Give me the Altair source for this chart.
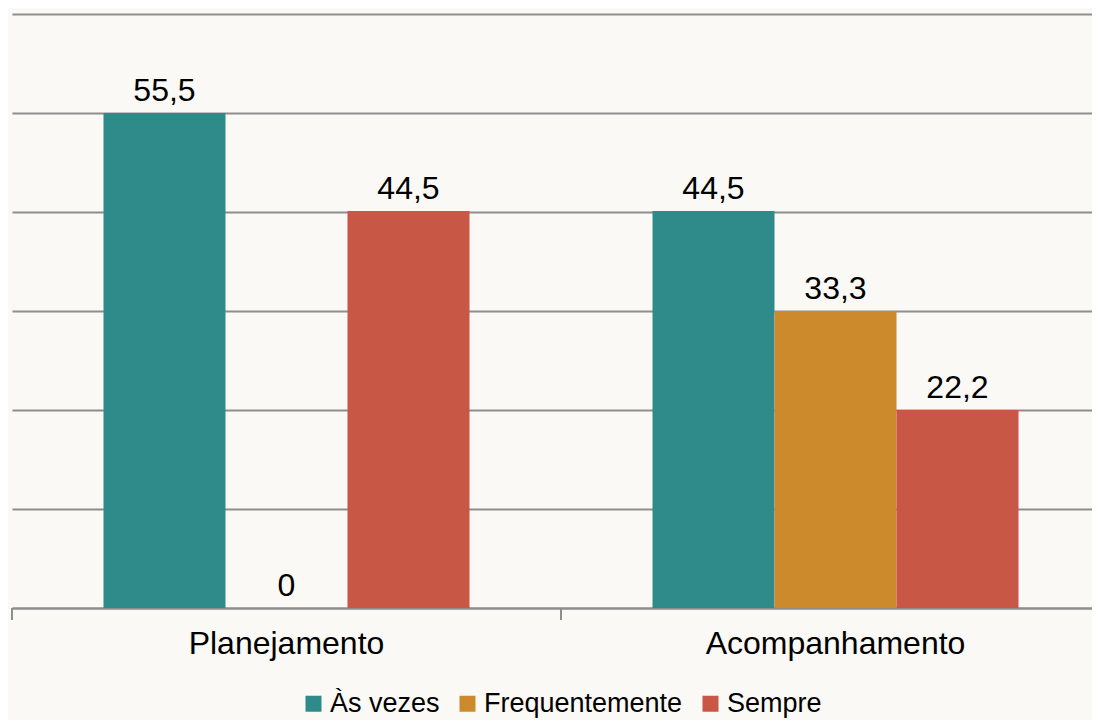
import altair as alt
import pandas as pd

categories = ["Planejamento", "Acompanhamento"]
series = ["Às vezes", "Frequentemente", "Sempre"]
planejamento = [55.5, 0, 44.5]
acompanhamento = [44.5, 33.3, 22.2]
colors = ["#2e8b8a", "#cc8a2c", "#c95745"]
grid_values = [0, 11.1, 22.2, 33.3, 44.4, 55.5, 66.6]

rows = []
for cat, vals in zip(categories, [planejamento, acompanhamento]):
    for s, v in zip(series, vals):
        lab = ("%g" % v).replace(".", ",")
        rows.append({"cat": cat, "serie": s, "valor": v, "rotulo": lab})
df = pd.DataFrame(rows)
ticks_df = pd.DataFrame({"cat": categories})

FONT = "Liberation Sans"
GRAY = "#8e8e8e"

x_enc = alt.X("cat:N", sort=categories,
              scale=alt.Scale(range=[0, 1098], paddingInner=0, paddingOuter=0),
              axis=alt.Axis(title=None, ticks=False, labelFontSize=32, labelFont=FONT,
                            labelColor="#000000", labelPadding=20, domainColor=GRAY,
                            domainWidth=2, labelAngle=0, labelLimit=0))
xo_enc = alt.XOffset("serie:N", sort=series,
                     scale=alt.Scale(paddingInner=0, paddingOuter=0.75))
y_enc = alt.Y("valor:Q", scale=alt.Scale(domain=[0, 66.6], nice=False),
              axis=alt.Axis(title=None, labels=False, ticks=False, domain=False,
                            values=grid_values, gridColor=GRAY, gridWidth=2,
                            gridOpacity=1))

bars = alt.Chart(df).mark_bar().encode(
    x=x_enc,
    xOffset=xo_enc,
    y=y_enc,
    color=alt.Color("serie:N", sort=series,
                    scale=alt.Scale(domain=series, range=colors),
                    legend=alt.Legend(title=None, orient="none", direction="horizontal",
                                      legendX=288, legendY=676, symbolType="square",
                                      symbolSize=256, symbolStrokeWidth=0,
                                      labelFontSize=27, labelFont=FONT,
                                      labelColor="#000000", columnPadding=14,
                                      labelOffset=3, labelLimit=0)),
)

texts = alt.Chart(df).mark_text(baseline="alphabetic", dy=-12, fontSize=32,
                                font=FONT, color="#000000").encode(
    x=alt.X("cat:N", sort=categories),
    xOffset=alt.XOffset("serie:N", sort=series),
    y=alt.Y("valor:Q"),
    text="rotulo:N",
)

tick_rules = alt.Chart(ticks_df).mark_rule(color=GRAY, strokeWidth=2).encode(
    x=alt.X("cat:N", sort=categories, bandPosition=0),
    y=alt.value(594),
    y2=alt.value(606),
)

chart = alt.layer(bars, texts, tick_rules).properties(
    width=1080, height=594,
    autosize=alt.AutoSizeParams(type="none"),
    padding={"left": 4, "top": 6, "right": 0, "bottom": 112},
    background="#faf9f5",
).configure_view(stroke=None)

chart.save("out.html", embed_options={"renderer": "svg", "actions": False})
